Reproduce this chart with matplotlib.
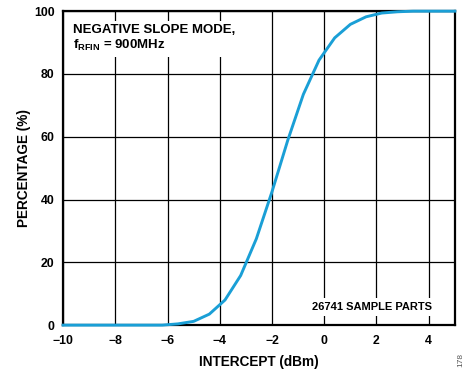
import matplotlib
matplotlib.use('Agg')
import matplotlib.pyplot as plt

# data
intercept = [-10, -6.2, -5.6, -5.0, -4.4, -3.8, -3.2, -2.6, -2.0, -1.4, -0.8, -0.2, 0.4, 1.0, 1.6, 2.2, 2.8, 3.4, 5.0]
percent = [0, 0, 0.4, 1.2, 3.5, 8.0, 15.8, 27.5, 42.5, 58.8, 73.5, 84.4, 91.5, 95.8, 98.2, 99.4, 99.8, 100, 100]

x_ticks = [-10, -8, -6, -4, -2, 0, 2, 4]
y_ticks = [0, 20, 40, 60, 80, 100]

plt.rcParams['font.family'] = ['Liberation Sans', 'DejaVu Sans']
plt.rcParams['font.weight'] = 'bold'
plt.rcParams['mathtext.fontset'] = 'custom'
plt.rcParams['mathtext.rm'] = 'Liberation Sans:bold'
plt.rcParams['mathtext.it'] = 'Liberation Sans:bold'
plt.rcParams['mathtext.bf'] = 'Liberation Sans:bold'

fig = plt.figure(figsize=(4.67, 3.72), dpi=100)
ax = fig.add_axes([0.135, 0.126, 0.839, 0.844])

ax.plot(intercept, percent, color='#1a9fd6', linewidth=2.1, zorder=3, clip_on=False)

ax.set_xlim(-10, 5)
ax.set_ylim(0, 100)
ax.set_xticks(x_ticks)
ax.set_yticks(y_ticks)
ax.grid(True, color='black', linewidth=0.9)
ax.tick_params(length=0, labelsize=8.8)
ax.tick_params(axis='x', pad=7)
ax.tick_params(axis='y', pad=6)
for s in ax.spines.values():
    s.set_linewidth(1.6)
    s.set_color('black')

ax.set_xlabel('INTERCEPT (dBm)', fontsize=9.8, fontweight='bold')
ax.set_ylabel('PERCENTAGE (%)', fontsize=9.8, fontweight='bold')
ax.xaxis.set_label_coords(0.5, -0.094)
ax.yaxis.set_label_coords(-0.083, 0.5)

ax.text(0.025, 0.958, 'NEGATIVE SLOPE MODE,\n$f_{RFIN}$ = 900MHz', transform=ax.transAxes,
        fontsize=9.5, fontweight='bold', va='top', ha='left', linespacing=1.15,
        bbox=dict(facecolor='white', edgecolor='none', pad=3), zorder=4)
ax.text(0.941, 0.058, '26741 SAMPLE PARTS', transform=ax.transAxes,
        fontsize=8, fontweight='bold', va='center', ha='right',
        bbox=dict(facecolor='white', edgecolor='none', pad=3), zorder=4)

fig.text(0.995, 0.032, '178', rotation=90, fontsize=6, color='#555555',
         fontweight='normal', ha='right', va='center')

fig.savefig('out.png', dpi=100)
